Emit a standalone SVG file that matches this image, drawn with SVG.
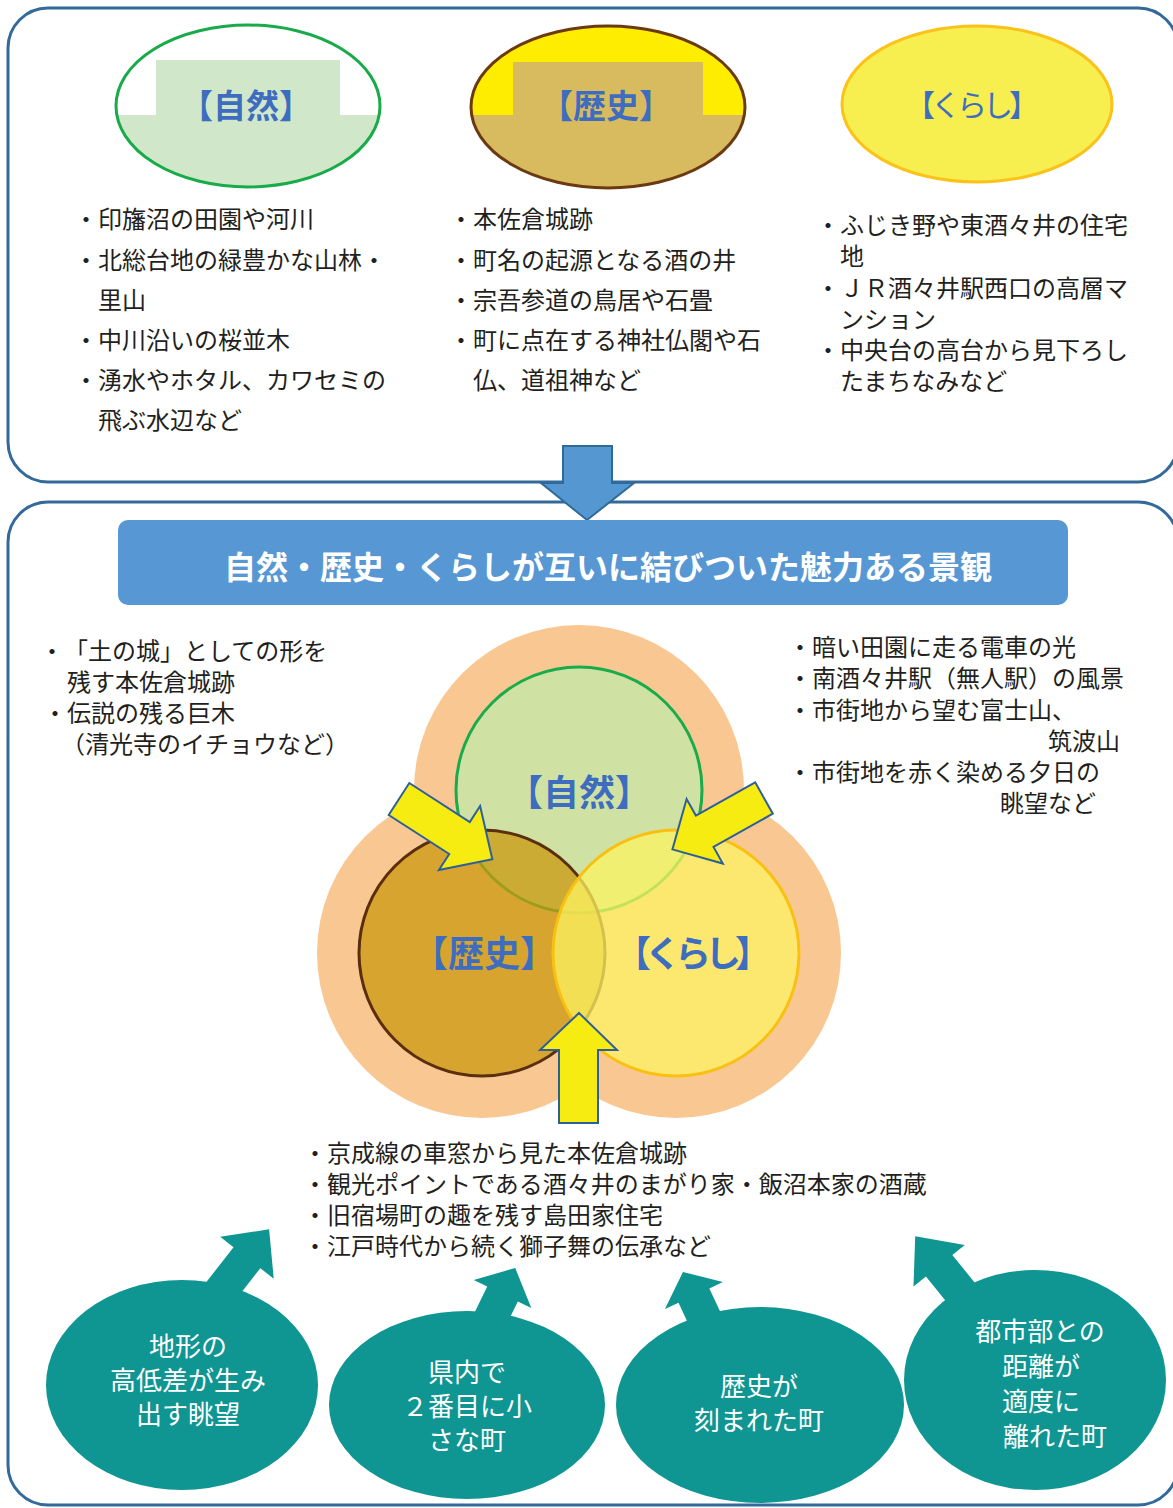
<svg xmlns="http://www.w3.org/2000/svg" width="1173" height="1508" viewBox="0 0 1173 1508">
<style>
text{text-spacing-trim:space-all}
.panel{fill:#ffffff;stroke:#336a9a;stroke-width:3}
.t{font-family:"Noto Sans CJK JP","Noto Sans",sans-serif;font-size:24px;fill:#231f20}
.lbl{font-family:"Noto Sans CJK JP",sans-serif;fill:#3e6dbf;text-anchor:middle}
.w{font-family:"Noto Sans CJK JP",sans-serif;font-size:26px;fill:#ffffff;text-anchor:middle}
.ws{font-family:"Noto Sans CJK JP",sans-serif;font-size:26px;fill:#ffffff;text-anchor:start}
.teal{fill:#0f9592}
.yarrow{fill:#f7ec12;stroke:#2f5f9a;stroke-width:2;stroke-linejoin:miter}
</style>
<defs>
<clipPath id="cNat"><ellipse cx="248" cy="106" rx="132" ry="81"/></clipPath>
<clipPath id="cHis"><ellipse cx="608" cy="107" rx="137" ry="81"/></clipPath>
</defs>
<rect width="1173" height="1508" fill="#ffffff"/>
<rect class="panel" x="8" y="8" width="1170" height="474" rx="40"/>
<rect class="panel" x="8" y="502" width="1170" height="1003" rx="40"/>

<g id="connectors">
<polygon points="563,446 612,446 612,483 634,483 587,520 541,483 563,483" fill="#5597d1" stroke="#2e6a9a" stroke-width="2"/>
</g>

<g id="top-nature">
<ellipse cx="248" cy="106" rx="132" ry="81" fill="#ffffff"/>
<g clip-path="url(#cNat)">
<rect x="100" y="115" width="300" height="90" fill="#d0e8c9"/>
</g>
<rect x="156" y="60" width="184" height="55" fill="#d0e8c9"/>
<ellipse cx="248" cy="106" rx="132" ry="81" fill="none" stroke="#19aa4a" stroke-width="3"/>
<text class="lbl" x="246" y="118" font-size="33" font-weight="bold">【自然】</text>
</g>

<g id="top-history">
<ellipse cx="608" cy="107" rx="137" ry="81" fill="#ffed00"/>
<g clip-path="url(#cHis)">
<rect x="460" y="115" width="300" height="90" fill="#d9bb5f"/>
</g>
<rect x="513" y="62" width="190" height="53" fill="#d9bb5f"/>
<ellipse cx="608" cy="107" rx="137" ry="81" fill="none" stroke="#6b3a12" stroke-width="3"/>
<text class="lbl" x="606" y="118" font-size="33" font-weight="bold">【歴史】</text>
</g>

<g id="top-life">
<ellipse cx="977" cy="104" rx="135" ry="78" fill="#f7ee50" stroke="#fbc21a" stroke-width="3"/>
<text class="lbl" x="970" y="116" font-size="30" letter-spacing="-4">【くらし】</text>
</g>

<g id="list-nature">
<text class="t" x="74" y="228">・印旛沼の田園や河川</text>
<text class="t" x="74" y="269">・北総台地の緑豊かな山林・</text>
<text class="t" x="98" y="309">里山</text>
<text class="t" x="74" y="349">・中川沿いの桜並木</text>
<text class="t" x="74" y="389">・湧水やホタル、カワセミの</text>
<text class="t" x="98" y="429">飛ぶ水辺など</text>
</g>

<g id="list-history">
<text class="t" x="449" y="228">・本佐倉城跡</text>
<text class="t" x="449" y="269">・町名の起源となる酒の井</text>
<text class="t" x="449" y="309">・宗吾参道の鳥居や石畳</text>
<text class="t" x="449" y="349">・町に点在する神社仏閣や石</text>
<text class="t" x="473" y="389">仏、道祖神など</text>
</g>

<g id="list-life">
<text class="t" x="816" y="234">・ふじき野や東酒々井の住宅</text>
<text class="t" x="840" y="265">地</text>
<text class="t" x="816" y="297">・ＪＲ酒々井駅西口の高層マ</text>
<text class="t" x="840" y="328">ンション</text>
<text class="t" x="816" y="359">・中央台の高台から見下ろし</text>
<text class="t" x="840" y="390">たまちなみなど</text>
</g>

<g id="title-bar">
<rect x="118" y="520" width="950" height="85" rx="10" fill="#5797d3"/>
<text x="608" y="579" font-family="Noto Sans CJK JP,sans-serif" font-size="32" font-weight="bold" fill="#ffffff" text-anchor="middle">自然・歴史・くらしが互いに結びついた魅力ある景観</text>
</g>

<g id="venn">
<circle cx="579" cy="790" r="165" fill="#f9c892"/>
<circle cx="482" cy="953" r="165" fill="#f9c892"/>
<circle cx="676" cy="953" r="165" fill="#f9c892"/>
<circle cx="579" cy="790" r="123" fill="#cfe2a4" stroke="#1aab4b" stroke-width="3"/>
<circle cx="482" cy="953" r="123" fill="rgb(202,152,13)" fill-opacity="0.75" stroke="#5a2e0e" stroke-width="3"/>
<circle cx="676" cy="953" r="123" fill="rgb(252,243,98)" fill-opacity="0.75" stroke="#f9c012" stroke-width="3"/>
<text class="lbl" x="579" y="806" font-size="36" font-weight="bold">【自然】</text>
<text class="lbl" x="484" y="967" font-size="36" font-weight="bold">【歴史】</text>
<text class="lbl" x="690" y="967" font-size="36" font-weight="bold" letter-spacing="-6">【くらし】</text>
</g>

<g id="yellow-arrows">
<polygon class="yarrow" transform="translate(399,799) rotate(32.8)" points="0,-19 72,-19 72,-38 111,0 72,38 72,19 0,19"/>
<polygon class="yarrow" transform="translate(764,798) rotate(150.7)" points="0,-18 68,-18 68,-37 105,0 68,37 68,18 0,18"/>
<polygon class="yarrow" points="579,1013 617,1050 598,1050 598,1123 559,1123 559,1050 540,1050"/>
</g>

<g id="list-left">
<text class="t" x="40" y="660">・「土の城」としての形を</text>
<text class="t" x="67" y="691">残す本佐倉城跡</text>
<text class="t" x="43" y="722">・伝説の残る巨木</text>
<text class="t" x="61" y="753">（清光寺のイチョウなど）</text>
</g>

<g id="list-right">
<text class="t" x="788" y="656">・暗い田園に走る電車の光</text>
<text class="t" x="788" y="687">・南酒々井駅（無人駅）の風景</text>
<text class="t" x="788" y="719">・市街地から望む富士山、</text>
<text class="t" x="1120" y="750" text-anchor="end">筑波山</text>
<text class="t" x="788" y="781">・市街地を赤く染める夕日の</text>
<text class="t" x="1096" y="812" text-anchor="end">眺望など</text>
</g>

<g id="list-bottom">
<text class="t" x="303" y="1162">・京成線の車窓から見た本佐倉城跡</text>
<text class="t" x="303" y="1193">・観光ポイントである酒々井のまがり家・飯沼本家の酒蔵</text>
<text class="t" x="303" y="1224">・旧宿場町の趣を残す島田家住宅</text>
<text class="t" x="303" y="1255">・江戸時代から続く獅子舞の伝承など</text>
</g>

<g id="factor-terrain">
<polygon class="teal" transform="translate(210,1305) rotate(-52)" points="0,-17 60,-17 60,-34 96,0 60,34 60,17 0,17"/>
<ellipse class="teal" cx="182" cy="1385" rx="136" ry="105"/>
<text class="w" x="188" y="1356">地形の</text>
<text class="w" x="188" y="1390">高低差が生み</text>
<text class="w" x="188" y="1424">出す眺望</text>
</g>

<g id="factor-small">
<polygon class="teal" transform="translate(485,1330) rotate(-64)" points="0,-17 40,-17 40,-32 69,0 40,32 40,17 0,17"/>
<ellipse class="teal" cx="467" cy="1405" rx="138" ry="94"/>
<text class="w" x="467" y="1382">県内で</text>
<text class="w" x="467" y="1416">２番目に小</text>
<text class="w" x="467" y="1450">さな町</text>
</g>

<g id="factor-history">
<polygon class="teal" transform="translate(710,1330) rotate(-115)" points="0,-17 38,-17 38,-32 64,0 38,32 38,17 0,17"/>
<ellipse class="teal" cx="760" cy="1405" rx="144" ry="98"/>
<text class="w" x="759" y="1396">歴史が</text>
<text class="w" x="759" y="1430">刻まれた町</text>
</g>

<g id="factor-distance">
<polygon class="teal" transform="translate(975,1310) rotate(-129)" points="0,-17 57,-17 57,-33 95,0 57,33 57,17 0,17"/>
<ellipse class="teal" cx="1035" cy="1380" rx="131" ry="110"/>
<text class="w" x="1040" y="1341">都市部との</text>
<text class="w" x="1041" y="1376">距離が</text>
<text class="w" x="1041" y="1411">適度に</text>
<text class="ws" x="1003" y="1446">離れた町</text>
</g>
</svg>
